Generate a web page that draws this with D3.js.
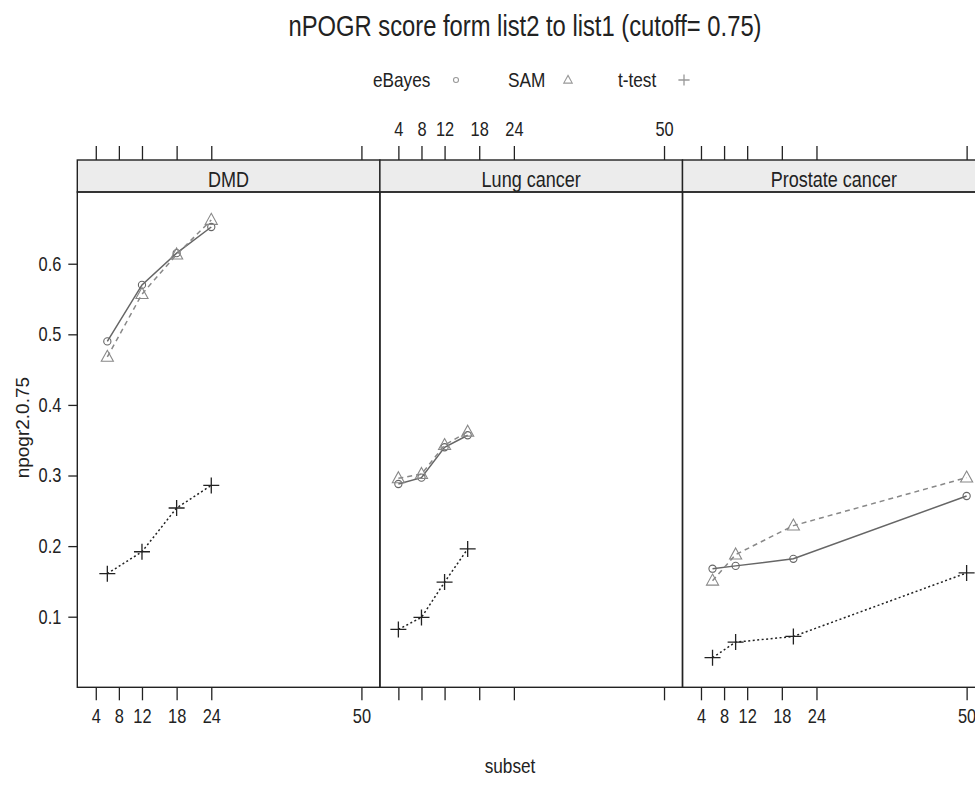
<!DOCTYPE html>
<html>
<head>
<meta charset="utf-8">
<script src="https://cdn.jsdelivr.net/npm/d3@7"></script>
<style>
  body { margin: 0; background: #fff; }
  svg text { font-family: "Liberation Sans", Arial, sans-serif; fill: #222; }
</style>
</head>
<body>
<div id="chart"></div>
<script>
var panelNames = ["DMD", "Lung cancer", "Prostate cancer"];
var subsets = [[6, 12, 18, 24], [4, 8, 12, 16], [6, 10, 20, 50]];
var eBayes = [[0.49, 0.57, 0.615, 0.652], [0.288, 0.297, 0.340, 0.357], [0.168, 0.172, 0.182, 0.271]];
var sam = [[0.468, 0.557, 0.613, 0.662], [0.296, 0.302, 0.343, 0.362], [0.151, 0.188, 0.229, 0.297]];
var ttest = [[0.161, 0.192, 0.254, 0.286], [0.082, 0.099, 0.149, 0.196], [0.042, 0.064, 0.072, 0.162]];
var xTicks = [4, 8, 12, 18, 24, 50];
var yTicks = [0.1, 0.2, 0.3, 0.4, 0.5, 0.6];
var legendNames = ["eBayes", "SAM", "t-test"];

var width = 975, height = 789;
var left = 77.3, panelW = 302.6;
var stripTop = 160, stripBottom = 192, bottom = 687.3;
var narrow = 0.82; // arial narrow = arial squeezed

var svg = d3.select("#chart").append("svg")
    .attr("width", width)
    .attr("height", height);

var y = d3.scaleLinear().domain([0, 0.7016]).range([bottom, stripBottom]);

var styles = [
    {color: "#666", dash: null, sym: "circle"},
    {color: "#888", dash: "5,4", sym: "triangle"},
    {color: "#222", dash: "2,2.5", sym: "plus"}
];
var seriesData = [eBayes, sam, ttest];

// narrow text helper
function ntext(g, x, yy, size, str, anchor) {
    return g.append("text")
        .attr("transform", "translate(" + x + "," + yy + ") scale(" + narrow + ",1)")
        .attr("text-anchor", anchor || "start")
        .style("font-size", size + "px")
        .text(str);
}

ntext(svg, 525, 36, 29, "nPOGR score form list2 to list1 (cutoff= 0.75)", "middle");

// legend
var legendX = [[373, 456], [508, 568], [618, 684]];
for (var i in legendNames) {
    ntext(svg, legendX[i][0], 87, 21, legendNames[i]);
    drawSymbol(svg, styles[i].sym, legendX[i][1], 80, 0.7, "#999");
}

function drawSymbol(g, sym, cx, cy, s, col) {
    if (sym == "circle") {
        g.append("circle").attr("cx", cx).attr("cy", cy).attr("r", 3.6 * s)
            .attr("fill", "none").attr("stroke", col).attr("stroke-width", 1.1);
    } else if (sym == "triangle") {
        var h = 11 * s;
        g.append("path")
            .attr("d", "M" + cx + "," + (cy - h * 0.6) + "L" + (cx + h * 0.55) + "," + (cy + h * 0.4) + "L" + (cx - h * 0.55) + "," + (cy + h * 0.4) + "Z")
            .attr("fill", "none").attr("stroke", col).attr("stroke-width", 1.1);
    } else {
        var r = 8 * s;
        g.append("path")
            .attr("d", "M" + (cx - r) + "," + cy + "H" + (cx + r) + "M" + cx + "," + (cy - r) + "V" + (cy + r))
            .attr("stroke", s < 1 ? col : "#222").attr("stroke-width", 1.3);
    }
}

function styleAxis(a) {
    a.select(".domain").remove();
    a.selectAll(".tick line").attr("stroke", "#222").attr("stroke-width", 1.3);
    a.selectAll(".tick text").style("font-size", "20px").attr("fill", "#222");
}

for (var p = 0; p < panelNames.length; p++) {
    var x0 = left + p * panelW;
    var x = d3.scaleLinear().domain([0.8, 53.2]).range([x0, x0 + panelW]);
    var g = svg.append("g");

    // strip
    g.append("rect")
        .attr("x", x0).attr("y", stripTop)
        .attr("width", panelW).attr("height", stripBottom - stripTop)
        .attr("fill", "#ececec").attr("stroke", "#222").attr("stroke-width", 1.4);
    ntext(g, x0 + panelW / 2, stripBottom - 5, 22, panelNames[p], "middle");

    // panel box
    g.append("rect")
        .attr("x", x0).attr("y", stripBottom)
        .attr("width", panelW).attr("height", bottom - stripBottom)
        .attr("fill", "none").attr("stroke", "#222").attr("stroke-width", 1.4);

    // top axis, labels only on middle panel
    var topAx = g.append("g").attr("transform", "translate(0," + stripTop + ")")
        .call(d3.axisTop(x).tickValues(xTicks).tickSize(14).tickSizeOuter(0).tickPadding(10)
            .tickFormat(p == 1 ? d3.format("d") : ""));
    // bottom axis, labels on outer panels
    var botAx = g.append("g").attr("transform", "translate(0," + bottom + ")")
        .call(d3.axisBottom(x).tickValues(xTicks).tickSize(13).tickSizeOuter(0).tickPadding(9)
            .tickFormat(p != 1 ? d3.format("d") : ""));
    styleAxis(topAx);
    styleAxis(botAx);
    topAx.selectAll(".tick text").attr("transform", "scale(" + narrow + ",1)");
    botAx.selectAll(".tick text").attr("transform", "scale(" + narrow + ",1)");

    for (var s = 0; s < seriesData.length; s++) {
        var pts = subsets[p].map(function(v, k) { return [x(v), y(seriesData[s][p][k])]; });
        g.append("path")
            .datum(pts)
            .attr("d", d3.line())
            .attr("fill", "none")
            .attr("stroke", styles[s].color)
            .attr("stroke-width", 1.5)
            .attr("stroke-dasharray", styles[s].dash);
        pts.forEach(function(pt) {
            drawSymbol(g, styles[s].sym, pt[0], pt[1], 1, styles[s].color);
        });
    }
}

// left axis
var yAxis = svg.append("g").attr("transform", "translate(" + left + ",0)")
    .call(d3.axisLeft(y).tickValues(yTicks).tickSize(9).tickSizeOuter(0).tickPadding(7).tickFormat(d3.format(".1f")));
styleAxis(yAxis);
yAxis.selectAll(".tick text")
    .attr("x", -16 / narrow)
    .attr("transform", "scale(" + narrow + ",1)");

svg.append("text")
    .attr("transform", "translate(29," + ((stripBottom + bottom) / 2 - 12) + ") rotate(-90)")
    .attr("text-anchor", "middle")
    .style("font-size", "19px")
    .attr("fill", "#333")
    .text("npogr2.0.75");

ntext(svg, 510, 773, 21, "subset", "middle");
</script>
</body>
</html>
